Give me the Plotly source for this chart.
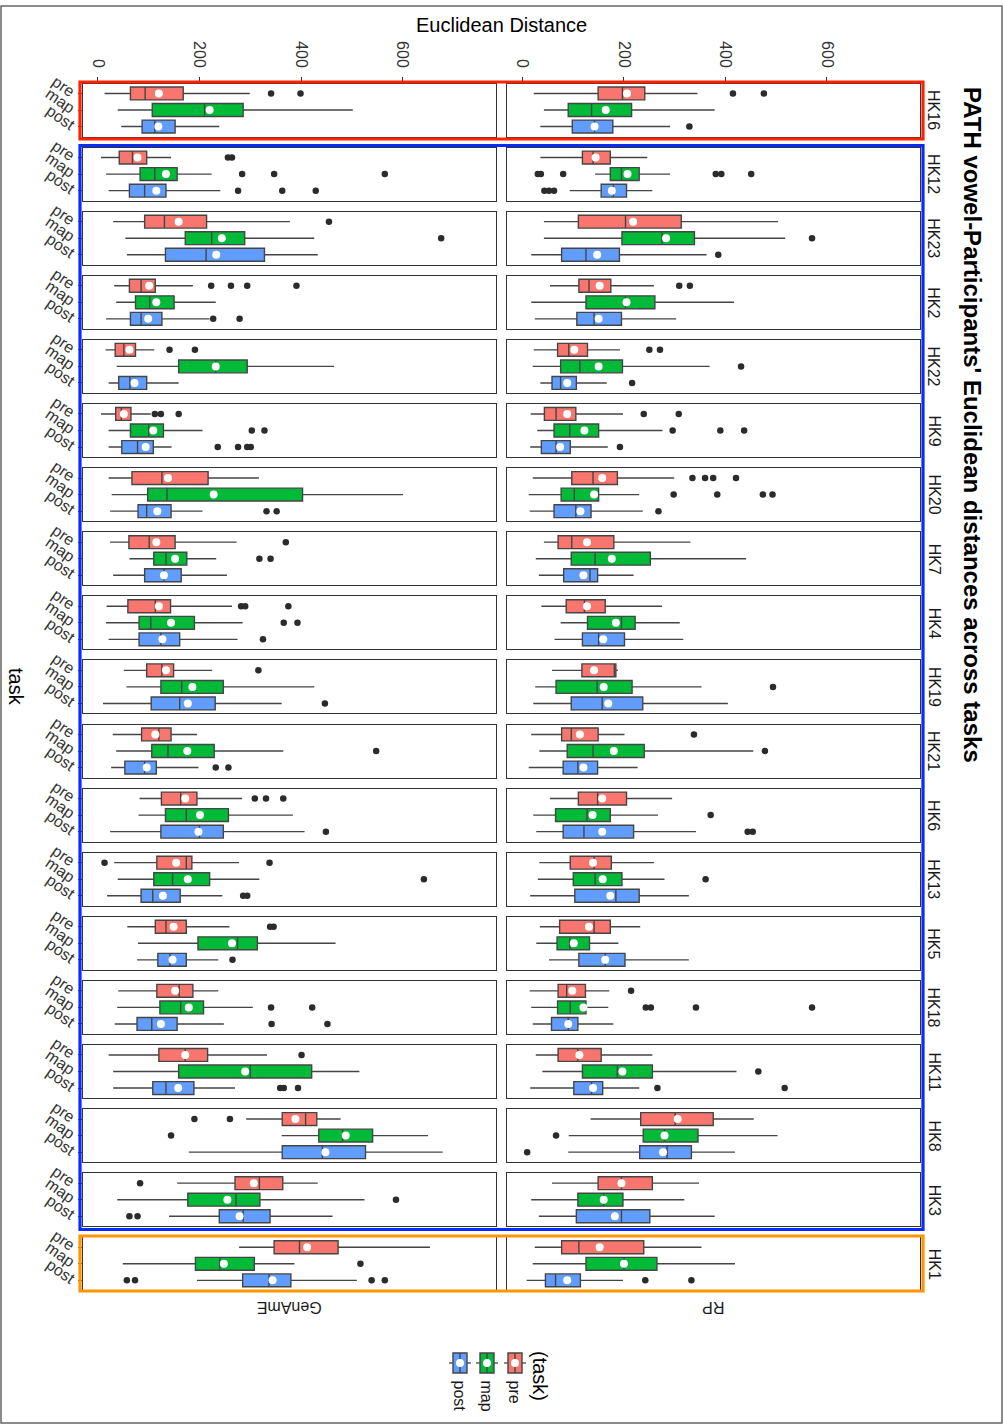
import plotly.graph_objects as go

W, H = 1004, 1425

SPEAKERS = ["HK16", "HK12", "HK23", "HK2", "HK22", "HK9", "HK20", "HK7", "HK4", "HK19",
            "HK21", "HK6", "HK13", "HK5", "HK18", "HK11", "HK8", "HK3", "HK1"]
TASKS = ["pre", "map", "post"]
ACCENTS = ["GenAmE", "RP"]
TASK_COLORS = {"pre": "#F8766D", "map": "#00BA38", "post": "#619CFF"}
X_TICKS = [0, 200, 400, 600]

# box stats per speaker: (lower whisker, q1, median, q3, upper whisker, mean)
GEN_PRE = [(13, 64, 93, 168, 299, 120), (6, 42, 68, 96, 144, 78), (30, 92, 131, 214, 378, 159),
           (32, 62, 85, 113, 187, 101), (15, 34, 51, 74, 111, 62), (6, 35, 46, 65, 104, 51),
           (21, 67, 126, 217, 317, 138), (24, 61, 101, 152, 273, 115), (17, 59, 113, 143, 264, 120),
           (51, 96, 126, 149, 225, 134), (29, 86, 120, 144, 195, 113), (82, 125, 163, 195, 284, 172),
           (32, 116, 174, 185, 278, 154), (58, 113, 134, 174, 259, 149), (40, 116, 160, 187, 237, 152),
           (21, 120, 172, 216, 333, 172), (292, 363, 409, 431, 478, 389), (156, 270, 318, 364, 433, 307),
           (278, 347, 397, 473, 654, 412)]
GEN_MAP = [(39, 107, 210, 286, 502, 220), (16, 83, 112, 156, 224, 134), (54, 172, 224, 289, 426, 244),
           (36, 74, 102, 150, 232, 115), (37, 159, 232, 294, 465, 232), (21, 64, 100, 129, 206, 109),
           (27, 98, 136, 403, 601, 228), (62, 110, 134, 175, 233, 152), (16, 81, 104, 190, 285, 144),
           (56, 124, 165, 247, 426, 186), (36, 106, 138, 229, 365, 176), (80, 133, 174, 257, 384, 201),
           (39, 110, 147, 220, 318, 177), (79, 197, 275, 314, 468, 264), (38, 122, 163, 208, 305, 179),
           (30, 159, 300, 421, 515, 290), (362, 435, 482, 541, 650, 488), (38, 177, 272, 319, 525, 255),
           (49, 192, 240, 308, 387, 248)]
GEN_POST = [(46, 87, 112, 152, 239, 119), (21, 62, 92, 134, 241, 115), (57, 133, 213, 328, 433, 233),
            (16, 64, 85, 126, 220, 99), (21, 41, 63, 96, 159, 72), (21, 47, 78, 109, 145, 94),
            (24, 79, 96, 144, 206, 117), (30, 92, 130, 164, 254, 130), (21, 81, 124, 161, 275, 127),
            (10, 105, 161, 231, 362, 177), (26, 53, 92, 115, 198, 96), (24, 124, 200, 247, 407, 198),
            (18, 85, 108, 162, 245, 128), (77, 118, 142, 174, 237, 147), (33, 77, 106, 156, 248, 124),
            (30, 108, 134, 189, 270, 158), (179, 363, 442, 527, 679, 448), (140, 239, 286, 339, 462, 279),
            (195, 285, 337, 380, 510, 344)]
RP_PRE = [(22, 149, 197, 241, 345, 206), (35, 118, 139, 173, 246, 144), (42, 110, 203, 313, 504, 218),
          (54, 111, 131, 174, 259, 152), (22, 69, 91, 128, 192, 102), (16, 43, 66, 105, 198, 88),
          (20, 97, 139, 187, 299, 157), (42, 70, 97, 180, 331, 127), (37, 86, 122, 163, 275, 127),
          (58, 117, 181, 184, 188, 141), (17, 77, 96, 149, 201, 113), (54, 110, 148, 205, 295, 157),
          (33, 94, 141, 175, 259, 139), (34, 73, 141, 173, 232, 131), (14, 70, 87, 124, 171, 98),
          (26, 70, 109, 155, 256, 112), (134, 233, 301, 376, 456, 306), (58, 149, 195, 256, 348, 195),
          (24, 77, 111, 239, 353, 152)]
RP_MAP = [(42, 90, 136, 215, 379, 164), (143, 173, 195, 230, 291, 207), (42, 196, 275, 339, 518, 283),
          (17, 125, 203, 261, 417, 205), (20, 75, 113, 197, 369, 150), (29, 62, 93, 150, 276, 122),
          (12, 76, 102, 150, 230, 141), (26, 96, 143, 252, 441, 176), (75, 128, 195, 222, 310, 184),
          (25, 66, 147, 216, 353, 160), (33, 88, 139, 240, 455, 180), (21, 65, 127, 173, 267, 138),
          (30, 100, 143, 196, 280, 158), (27, 68, 93, 132, 189, 101), (17, 69, 94, 125, 169, 120),
          (39, 118, 187, 256, 422, 197), (91, 238, 280, 346, 503, 280), (17, 109, 160, 198, 319, 160),
          (20, 125, 200, 265, 419, 200)]
RP_POST = [(35, 98, 142, 178, 291, 142), (93, 155, 179, 205, 256, 176), (17, 77, 125, 191, 363, 147),
           (24, 107, 141, 195, 303, 150), (35, 58, 75, 106, 166, 88), (15, 37, 66, 94, 168, 74),
           (14, 62, 105, 135, 237, 114), (32, 81, 133, 148, 219, 120), (63, 118, 150, 201, 317, 159),
           (21, 96, 157, 237, 405, 169), (12, 80, 109, 148, 227, 120), (27, 80, 121, 219, 342, 157),
           (15, 103, 184, 230, 328, 173), (52, 111, 163, 202, 328, 163), (20, 57, 90, 109, 179, 90),
           (15, 101, 136, 158, 230, 139), (90, 231, 285, 333, 419, 277), (32, 106, 195, 251, 379, 182),
           (8, 45, 65, 114, 198, 88)]

# outliers per speaker
GEN_PRE_OUT = [[341, 399], [256, 264], [455], [223, 262, 294, 391], [141, 191], [112, 124, 159], [],
               [370], [282, 290, 375], [316], [], [309, 331, 365], [13, 338], [339, 346], [], [401],
               [190, 260], [83], []]
GEN_MAP_OUT = [[], [284, 347, 565], [676], [], [], [303, 328], [], [318, 340], [366, 393], [], [548],
               [], [642], [], [341, 422], [], [144], [587], [517]]
GEN_POST_OUT = [[], [276, 363, 429], [], [227, 279], [], [236, 276, 294, 301], [332, 352], [], [325],
                [447], [232, 257], [449], [286, 294], [265], [342, 452], [359, 366, 394], [], [62, 78],
                [57, 73, 539, 565]]
RP_PRE_OUT = [[415, 476], [], [], [309, 330], [250, 271], [239, 308], [335, 360, 376, 421], [], [], [],
              [338], [], [], [], [214], [], [], [], []]
RP_MAP_OUT = [[], [30, 36, 80, 381, 392, 451], [571], [], [431], [296, 390, 437], [298, 384, 474, 493],
              [], [], [494], [478], [371], [361], [], [243, 253, 342, 571], [465], [66], [], []]
RP_POST_OUT = [[329], [43, 52, 62], [386], [], [216], [192], [268], [], [], [], [], [444, 454], [], [],
               [], [266, 517], [9], [], [242, 333]]

STATS = {"GenAmE": {"pre": GEN_PRE, "map": GEN_MAP, "post": GEN_POST},
         "RP": {"pre": RP_PRE, "map": RP_MAP, "post": RP_POST}}
OUTLIERS = {"GenAmE": {"pre": GEN_PRE_OUT, "map": GEN_MAP_OUT, "post": GEN_POST_OUT},
            "RP": {"pre": RP_PRE_OUT, "map": RP_MAP_OUT, "post": RP_POST_OUT}}

FONT = "Liberation Sans, Arial, sans-serif"
INK = "#333333"

# panel geometry in pixels
PANEL_X = [(82.7, 496.0), (507.4, 920.0)]
ROW_TOP0, ROW_STEP, PANEL_H = 83.5, 64.1, 53.0


def fx(px):
    return px / W


def fy(py):
    return 1 - py / H


def note(x, y, text, size, angle=0, xanchor="center", yanchor="middle", color="black"):
    return dict(x=fx(x), y=fy(y), xref="paper", yref="paper", text=text, textangle=angle,
                showarrow=False, xanchor=xanchor, yanchor=yanchor,
                font=dict(size=size, color=color, family=FONT))


fig = go.Figure()
layout = {}

for i, spk in enumerate(SPEAKERS):
    top = ROW_TOP0 + i * ROW_STEP
    for j, acc in enumerate(ACCENTS):
        k = i * 2 + j + 1
        xname = "x" if k == 1 else f"x{k}"
        yname = "y" if k == 1 else f"y{k}"
        xa = dict(domain=[fx(PANEL_X[j][0]), fx(PANEL_X[j][1])], anchor=yname, range=[-30, 784],
                  showgrid=False, zeroline=False, showline=True, mirror=True, automargin=False,
                  linecolor=INK, linewidth=1.2, fixedrange=True)
        if i == 0:
            xa.update(side="top", ticks="outside", ticklen=5, tickwidth=1.2, tickcolor=INK,
                      tickmode="array", tickvals=X_TICKS, tickangle=90, ticklabelstandoff=4,
                      tickfont=dict(size=16, color=INK, family=FONT))
        else:
            xa.update(showticklabels=False, ticks="")
        ya = dict(domain=[fy(top + PANEL_H), fy(top)], anchor=xname, type="category",
                  categoryorder="array", categoryarray=TASKS, range=[2.6, -0.6],
                  showgrid=False, zeroline=False, showline=True, mirror=True, automargin=False,
                  linecolor=INK, linewidth=1.2, fixedrange=True)
        if j == 0:
            ya.update(ticks="outside", ticklen=4, tickwidth=1.2, tickcolor=INK, tickangle=35,
                      tickmode="array", tickvals=TASKS, ticktext=TASKS,
                      tickfont=dict(size=16, color=INK, family=FONT))
        else:
            ya.update(showticklabels=False, ticks="")
        layout["xaxis" if k == 1 else f"xaxis{k}"] = xa
        layout["yaxis" if k == 1 else f"yaxis{k}"] = ya

        means, out_x, out_y = [], [], []
        for task in TASKS:
            lo, q1, med, q3, hi, mean = STATS[acc][task][i]
            fig.add_trace(go.Box(
                y=[task], q1=[q1], median=[med], q3=[q3], lowerfence=[lo], upperfence=[hi],
                orientation="h", width=0.78, whiskerwidth=0, boxpoints=False,
                fillcolor=TASK_COLORS[task], line=dict(color="#454545", width=1.4),
                xaxis=xname, yaxis=yname, showlegend=False, hoverinfo="skip"))
            means.append(mean)
            for v in OUTLIERS[acc][task][i]:
                out_x.append(v)
                out_y.append(task)
        fig.add_trace(go.Scatter(x=out_x, y=out_y, mode="markers", xaxis=xname, yaxis=yname,
                                 marker=dict(size=6.5, color="#2b2b2b"), showlegend=False,
                                 hoverinfo="skip"))
        fig.add_trace(go.Scatter(x=means, y=TASKS, mode="markers", xaxis=xname, yaxis=yname,
                                 marker=dict(size=8, color="white", line=dict(width=0)),
                                 showlegend=False, hoverinfo="skip"))

annotations = []
for i, spk in enumerate(SPEAKERS):
    mid = ROW_TOP0 + i * ROW_STEP + PANEL_H / 2
    annotations.append(note(934, mid, spk, 16, angle=90, color="#1a1a1a"))
for j, acc in enumerate(ACCENTS):
    annotations.append(note(sum(PANEL_X[j]) / 2, 1308, acc, 16, angle=180, color="#1a1a1a"))
annotations += [
    note(501, 25, "Euclidean Distance", 20),
    note(16, 687, "task", 20, angle=90),
    note(972, 85, "<b>PATH vowel-Participants' Euclidean distances across tasks</b>", 24,
         angle=90, yanchor="top"),
    note(540, 1349, "(task)", 20, angle=90, yanchor="top"),
]

shapes = []
# legend keys (drawn by hand, rotated like the rest of the chart)
for task, cx in zip(TASKS, [515, 487, 460]):
    annotations.append(note(cx - 1, 1378, task, 16, angle=90, yanchor="top", color="#1a1a1a"))
    shapes.append(dict(type="line", xref="paper", yref="paper", x0=fx(cx - 11), x1=fx(cx + 11),
                       y0=fy(1363), y1=fy(1363), line=dict(color="#555555", width=1.4)))
    shapes.append(dict(type="rect", xref="paper", yref="paper", x0=fx(cx - 7), x1=fx(cx + 7),
                       y0=fy(1373), y1=fy(1353), fillcolor=TASK_COLORS[task],
                       line=dict(color="#454545", width=1.4)))
    shapes.append(dict(type="line", xref="paper", yref="paper", x0=fx(cx), x1=fx(cx),
                       y0=fy(1373), y1=fy(1353), line=dict(color="#454545", width=1.4)))
    shapes.append(dict(type="circle", xref="paper", yref="paper", x0=fx(cx - 4), x1=fx(cx + 4),
                       y0=fy(1367), y1=fy(1359), fillcolor="white", line=dict(width=0)))

# coloured frames around speaker groups
for color, y0, y1 in [("#FF2200", 82, 139), ("#0A2BFF", 145.5, 1229.5), ("#FF9500", 1236, 1291)]:
    shapes.append(dict(type="rect", xref="paper", yref="paper", x0=fx(80), x1=fx(923),
                       y0=fy(y1), y1=fy(y0), line=dict(color=color, width=3.2)))
# outer border of the image
shapes.append(dict(type="rect", xref="paper", yref="paper", x0=fx(1), x1=fx(1002),
                   y0=fy(1423), y1=fy(6), line=dict(color="#666666", width=1.5)))

fig.update_layout(
    **layout,
    width=W, height=H, autosize=False,
    margin=dict(l=0, r=0, t=0, b=0, autoexpand=False),
    paper_bgcolor="white", plot_bgcolor="white",
    boxmode="overlay", showlegend=False,
    font=dict(family=FONT, color=INK),
    annotations=annotations, shapes=shapes,
)

# drop the browser's default 8px page margin so the figure sits at the window origin
fig.write_html("out.html", config={"displayModeBar": False},
               post_script="document.body.style.margin='0';document.body.style.overflow='hidden';")
